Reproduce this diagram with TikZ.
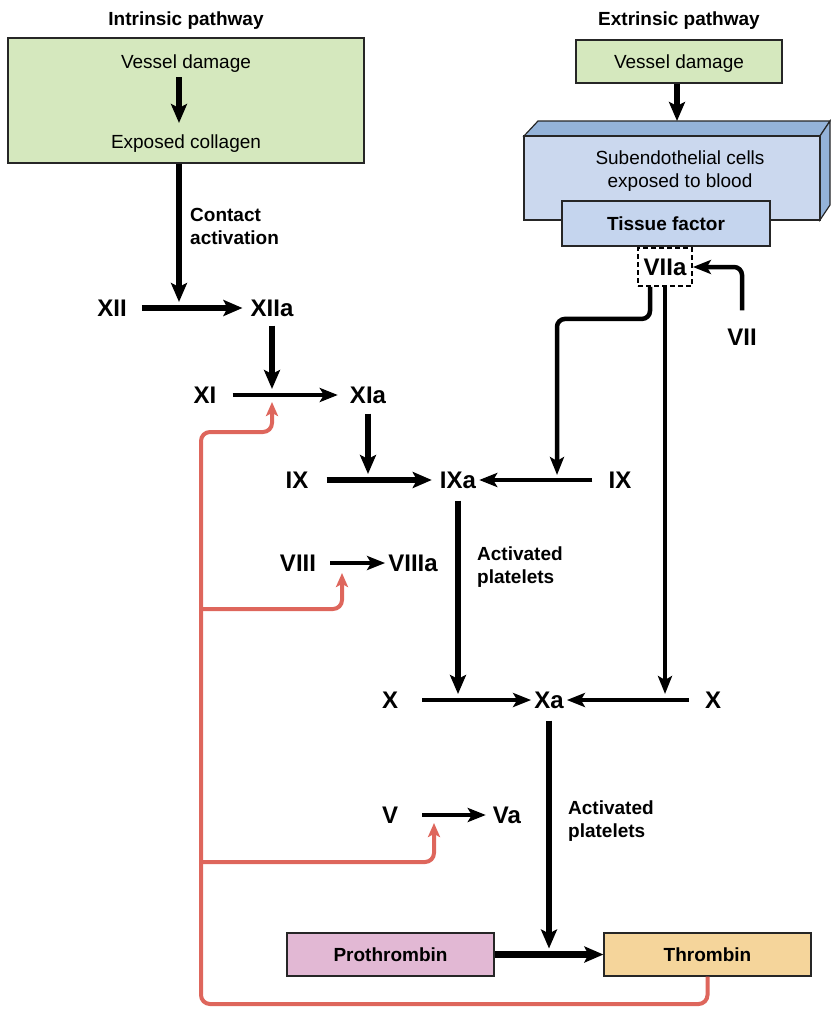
\documentclass[tikz,border=0pt]{standalone}
\usepackage{fontspec}
\setmainfont{Liberation Sans}
\usepackage{xcolor}
\usepackage{tikz}
\usetikzlibrary{arrows.meta,calc}
\definecolor{boxgreen}{RGB}{213,232,190}
\definecolor{cellfront}{RGB}{203,216,238}
\definecolor{cellside}{RGB}{148,179,217}
\definecolor{tfblue}{RGB}{197,213,238}
\definecolor{prothpink}{RGB}{226,184,212}
\definecolor{thrombpeach}{RGB}{245,213,155}
\definecolor{fbred}{RGB}{222,102,92}
\tikzset{
  fac/.style={font=\fontsize{24}{26}\selectfont\bfseries, text height=17pt,
              text depth=0pt, inner sep=2pt},
  txt/.style={font=\fontsize{19}{23}\selectfont, text height=13.6pt,
              text depth=0pt, inner sep=0pt},
  htxt/.style={font=\fontsize{19}{23}\selectfont\bfseries, anchor=base, inner sep=0pt},
  notetxt/.style={font=\fontsize{19}{23}\selectfont\bfseries, align=left, inner sep=0pt},
  boxbase/.style={draw=black!85, line width=1.2pt, inner sep=0pt,
                  font=\fontsize{19}{23}\selectfont, text height=13.6pt, text depth=0pt},
  greenbox/.style={boxbase, fill=boxgreen},
  cellbox/.style={boxbase, fill=cellfront},
  tfbox/.style={boxbase, fill=tfblue, font=\fontsize{19}{23}\selectfont\bfseries,
                minimum width=208pt, minimum height=45pt},
  endbox/.style={boxbase, font=\fontsize{19}{23}\selectfont\bfseries,
                 minimum width=207pt, minimum height=43pt},
  dashbox/.style={fac, draw, line width=1.8pt, dash pattern=on 5pt off 3pt,
                  minimum width=54pt, minimum height=38pt, inner sep=0pt},
  bigarrow/.style={line width=6.5pt, -{Stealth[length=19pt,width=16pt,inset=4pt]}},
  arrow/.style={line width=4.5pt, -{Stealth[length=18pt,width=14pt,inset=4pt]}},
  fbarrow/.style={line width=4pt, fbred, rounded corners=9pt,
                  -{Stealth[length=14pt,width=12pt,inset=3pt]}}
}

\begin{document}
\begin{tikzpicture}[x=1pt, y=-1pt]
\useasboundingbox (0,0) rectangle (830,1009);

% intrinsic pathway
\node (ihead) [htxt] at (186,25) {Intrinsic pathway};
\node (ibox) [greenbox, minimum width=356pt, minimum height=125pt] at (186,100.5) {};
\node (vd1) [txt] at (186,62) {Vessel damage};
\node (ec) [txt] at (186,142) {Exposed collagen};
\coordinate (xiij) at (179,308);
\draw[bigarrow, shorten <=8pt, shorten >=12pt] (vd1.south -| xiij) -- (ec.north -| xiij);
\draw[bigarrow, shorten >=6pt] (ibox.south -| xiij) -- (xiij);
\node (contact) [notetxt, anchor=north west] at (190,208) {Contact\\activation};

% extrinsic pathway
\node (ehead) [htxt] at (679,25) {Extrinsic pathway};
\node (vd2) [greenbox, minimum width=206pt, minimum height=43pt] at (679,61.5) {Vessel damage};
\draw[boxbase, fill=cellside] (524,136) -- (538,121) -- (830,121) -- (820,136) -- cycle;
\draw[boxbase, fill=cellside] (820,136) -- (830,121) -- (830,205) -- (820,220) -- cycle;
\node (sub) [cellbox, minimum width=296pt, minimum height=84pt] at (672,178) {};
\node (subtxt) [font=\fontsize{19}{23}\selectfont, align=center, inner sep=0pt] at (680,171)
  {Subendothelial cells\\exposed to blood};
\node (tf) [tfbox] at (666,223.5) {Tissue factor};
\coordinate (subtop) at (677,121);
\draw[bigarrow] (vd2.south -| subtop) -- (subtop);
\node (viia) [dashbox] at (665,267) {VIIa};
\node (vii) [fac] at (742,337) {VII};
\draw[arrow, rounded corners=8pt, shorten <=16pt] (vii) |- (viia);

% cascade
\node (xii) [fac] at (112,308) {XII};
\node (xiia) [fac] at (272,308) {XIIa};
\node (xi) [fac] at (205,395) {XI};
\node (xia) [fac] at (368,395) {XIa};
\node (ix) [fac] at (297,480) {IX};
\node (ixa) [fac] at (458,480) {IXa};
\node (ixr) [fac] at (620,480) {IX};
\node (viii) [fac] at (298,563) {VIII};
\node (viiia) [fac] at (413,563) {VIIIa};
\node (x) [fac] at (390,700) {X};
\node (xa) [fac] at (549,700) {Xa};
\node (xr) [fac] at (713,700) {X};
\node (v) [fac] at (390,815) {V};
\node (va) [fac] at (507,815) {Va};

\draw[bigarrow, shorten <=13pt, shorten >=6pt] (xii) -- (xiia);
\draw[bigarrow, shorten <=7pt, shorten >=6pt] (xiia) -- (xiia |- xi);
\draw[arrow, shorten <=14pt, shorten >=10pt] (xi) -- (xia);
\draw[bigarrow, shorten <=8pt, shorten >=6pt] (xia) -- (xia |- ix);
\draw[bigarrow, shorten <=16pt, shorten >=6pt] (ix) -- (ixa);
\draw[arrow, shorten <=14pt, shorten >=1pt] (ixr) -- (ixa);
\coordinate (ixj) at (557,480);
\draw[arrow, rounded corners=8pt, shorten >=5pt] ([xshift=-15pt]viia.south) -- ++(0,32) -| (ixj);
\draw[arrow, shorten >=6pt] (viia.south) -- (viia |- xr);
\draw[arrow, shorten <=12pt, shorten >=1pt] (viii) -- (viiia);
\draw[bigarrow, shorten <=10pt, shorten >=6pt] (ixa) -- (ixa |- x);
\node (plt1) [notetxt, anchor=north west] at (477,547) {Activated\\platelets};
\draw[arrow, shorten <=22pt, shorten >=1pt] (x) -- (xa);
\draw[arrow, shorten <=14pt, shorten >=1pt] (xr) -- (xa);
\draw[arrow, shorten <=22pt, shorten >=5pt] (v) -- (va);

% prothrombin to thrombin
\node (proth) [endbox, fill=prothpink] at (390.5,954.5) {Prothrombin};
\node (thromb) [endbox, fill=thrombpeach] at (707.5,954.5) {Thrombin};
\draw[bigarrow] (proth) -- (thromb);
\draw[bigarrow, shorten <=10pt, shorten >=6pt] (xa) -- (xa |- proth);
\node (plt2) [notetxt, anchor=north west] at (568,801) {Activated\\platelets};

% thrombin feedback
\coordinate (fbcorner) at (201,1004);
\coordinate (fbtop) at (201,432);
\coordinate (xifb) at (272,402);
\coordinate (viiibr) at (201,609);
\coordinate (viiifb) at (342,573);
\coordinate (vbr) at (201,862);
\coordinate (vfb) at (434,823);
\draw[fbarrow] (thromb.south) |- (fbcorner) -- (fbtop) -| (xifb);
\draw[fbarrow] (viiibr) -| (viiifb);
\draw[fbarrow] (vbr) -| (vfb);
\end{tikzpicture}
\end{document}
